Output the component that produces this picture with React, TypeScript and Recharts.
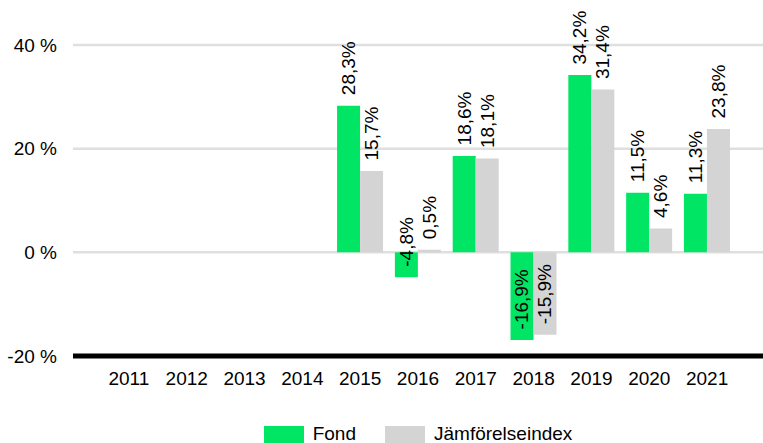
import React from 'react';
import { BarChart, Bar, XAxis, YAxis, CartesianGrid, Legend, LabelList } from 'recharts';

const years = ['2011', '2012', '2013', '2014', '2015', '2016', '2017', '2018', '2019', '2020', '2021'];
const fond: (number | null)[] = [null, null, null, null, 28.3, -4.8, 18.6, -16.9, 34.2, 11.5, 11.3];
const index: (number | null)[] = [null, null, null, null, 15.7, 0.5, 18.1, -15.9, 31.4, 4.6, 23.8];
const yTicks = [-20, 0, 20, 40];

const GREEN = '#00E664';
const GREY = '#D4D4D4';
const FONT = '"Liberation Sans", Arial, sans-serif';

const data = years.map((y, i) => ({ year: y, fond: fond[i], index: index[i] }));

const fmt = (v: number) => `${v.toFixed(1).replace('.', ',')}%`;

const ValueLabel = (props: any) => {
  const { x, y, width, height, value } = props;
  if (value === null || value === undefined) return null;
  const v = Number(value);
  const cx = Number(x) + Number(width) / 2;
  const y1 = Number(y);
  const y2 = Number(y) + Number(height);
  const vy = v >= 0 ? Math.min(y1, y2) : Math.max(y1, y2);
  const ly = vy - 10.5;
  return (
    <text
      x={cx}
      y={ly}
      transform={`rotate(-90, ${cx}, ${ly})`}
      textAnchor="start"
      dominantBaseline="central"
      fontSize={19}
      fontFamily={FONT}
      fill="#000"
    >
      {fmt(v)}
    </text>
  );
};

const LegendContent = () => (
  <div style={{ display: 'flex', justifyContent: 'center', alignItems: 'flex-start', fontFamily: FONT, fontSize: 19, lineHeight: '19px', color: '#000', height: 20 }}>
    <div style={{ display: 'flex', alignItems: 'flex-start' }}>
      <div style={{ width: 40, height: 18, marginTop: 2, background: GREEN }} />
      <span style={{ marginLeft: 9 }}>Fond</span>
    </div>
    <div style={{ display: 'flex', alignItems: 'flex-start', marginLeft: 29 }}>
      <div style={{ width: 40, height: 18, marginTop: 2, background: GREY }} />
      <span style={{ marginLeft: 9 }}>Jämförelseindex</span>
    </div>
  </div>
);

export default function App() {
  return (
    <div style={{ position: 'absolute', left: 0, top: 0, width: 763, height: 443, background: '#fff' }}>
      <BarChart
        width={763}
        height={443}
        data={data}
        margin={{ top: 45, right: 0, bottom: 37, left: 0 }}
        barCategoryGap="10%"
        barGap={0}
      >
        <CartesianGrid vertical={false} stroke="#DFDFDF" strokeWidth={2.5} />
        <XAxis
          dataKey="year"
          height={30}
          padding={{ left: 27, right: 27 }}
          axisLine={{ stroke: '#000', strokeWidth: 5 }}
          tickLine={false}
          tickMargin={10}
          tick={{ fontSize: 19, fontFamily: FONT, fill: '#000' }}
          interval={0}
        />
        <YAxis
          width={73}
          domain={[-20, 40]}
          ticks={yTicks}
          axisLine={false}
          tickLine={false}
          tickMargin={10}
          tickFormatter={(v: number) => `${v} %`}
          tick={{ fontSize: 19, fontFamily: FONT, fill: '#000' }}
        />
        <Legend
          verticalAlign="bottom"
          content={<LegendContent />}
          wrapperStyle={{ position: 'absolute', top: 424, bottom: 'auto', left: 73, width: 690, height: 20 }}
        />
        <Bar dataKey="fond" name="Fond" fill={GREEN} isAnimationActive={false}>
          <LabelList dataKey="fond" content={<ValueLabel />} />
        </Bar>
        <Bar dataKey="index" name="Jämförelseindex" fill={GREY} isAnimationActive={false}>
          <LabelList dataKey="index" content={<ValueLabel />} />
        </Bar>
      </BarChart>
    </div>
  );
}
